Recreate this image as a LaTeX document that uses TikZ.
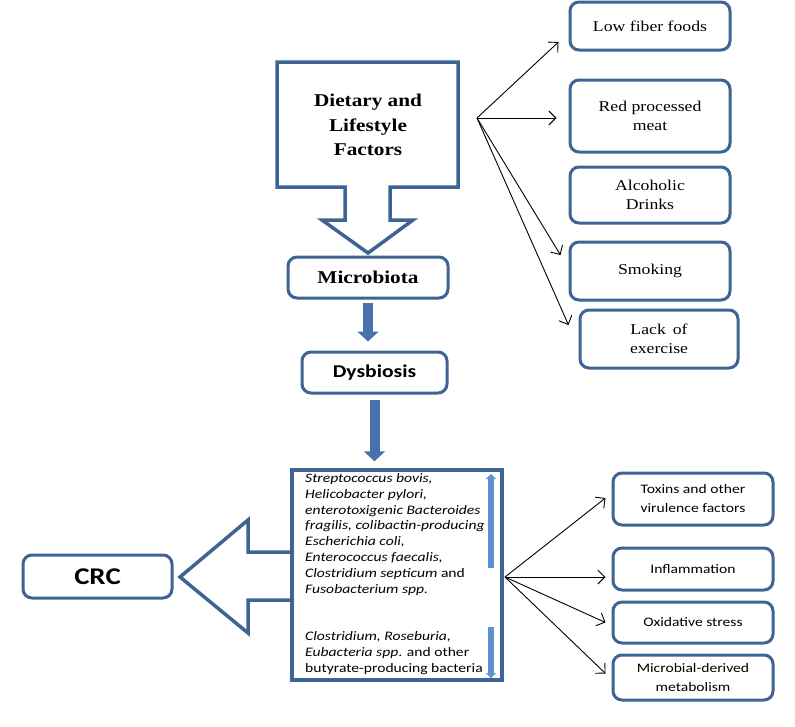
\documentclass[tikz,border=0pt]{standalone}
\usepackage{fontspec}
\setmainfont{Liberation Serif}
\newfontfamily\serifw[FakeStretch=1.18]{Liberation Serif}
\newfontfamily\sansw[FakeStretch=1.2]{Carlito}
\usetikzlibrary{arrows.meta}
\definecolor{bord}{HTML}{3E6494}
\definecolor{fatarrow}{HTML}{4772AC}
\definecolor{lightbar}{HTML}{5E92CF}
\begin{document}
\begin{tikzpicture}[x=1pt,y=-1pt,
 rbox/.style={draw=bord, line width=3pt, rounded corners=9pt, fill=white, inner sep=0pt, align=center},
 topbox/.style={rbox, minimum width=160pt, font=\serifw\fontsize{15}{19}\selectfont},
 botbox/.style={rbox, minimum width=160pt, font=\sansw\fontsize{13}{19}\selectfont},
 thinarrow/.style={draw=black, line width=0.9pt, -{Straight Barb[length=7pt,width=14pt]}},
 fatarr/.style={draw=fatarrow, line width=10pt, -{Triangle[length=10pt,width=21pt]}},
 lbar/.style={draw=lightbar, line width=6pt},
 blockarrow/.style={draw=bord, line width=3.5pt, fill=white, line join=miter},
 spectext/.style={anchor=north west, align=left, inner sep=0pt, font=\sansw\fontsize{13}{15.9}\selectfont},
]
\useasboundingbox[fill=white] (0,0) rectangle (795,726);

% Dietary block arrow
\draw[blockarrow] (277,62) -- (458,62) -- (458,187) -- (390,187) -- (390,220) -- (413,220)
  -- (368,253) -- (322,220) -- (345,220) -- (345,187) -- (277,187) -- cycle;
\node[align=center, font=\serifw\bfseries\fontsize{18}{24.5}\selectfont] (diet) at (368,125)
  {Dietary and\\Lifestyle\\Factors};

% Right top boxes
\node[topbox, minimum height=48pt] (low) at (650,26) {Low fiber foods};
\node[topbox, minimum height=72pt] (red) at (650,116) {Red processed\\meat};
\node[topbox, minimum height=56pt] (alc) at (650,195) {Alcoholic\\Drinks};
\node[topbox, minimum height=58pt] (smoke) at (650,271) {Smoking};
\node[topbox, minimum width=158pt, minimum height=58pt] (lack) at (659,339) {Lack\, of\\exercise};

\coordinate (fan1) at (477,118);
\draw[thinarrow] (fan1) -- ([shift={(-10,16)}]low.west);
\draw[thinarrow] (fan1) -- ([shift={(-12,2)}]red.west);
\draw[thinarrow] (fan1) -- ([shift={(-8,-16)}]smoke.west);
\draw[thinarrow] (fan1) -- ([shift={(-10,-14)}]lack.west);

% Microbiota, Dysbiosis
\node[rbox, minimum width=160pt, minimum height=41pt, font=\serifw\bfseries\fontsize{18}{22}\selectfont] (micro) at (368,277.5) {Microbiota};
\node[rbox, minimum width=145pt, minimum height=41pt, font=\sansw\bfseries\fontsize{18}{22}\selectfont] (dys) at (374.5,372.5) {Dysbiosis};

% CRC block arrow
\draw[blockarrow] (292,552) -- (248,552) -- (248,520) -- (180,577) -- (248,633) -- (248,600) -- (292,600);

% Species box
\node[draw=bord, line width=3.5pt, fill=white, minimum width=210pt, minimum height=210pt, inner sep=0pt] (spec) at (397,575) {};
\node[spectext] (spectop) at (305,473)
 {\textit{Streptococcus bovis,}\\
  \textit{Helicobacter pylori,}\\
  \textit{enterotoxigenic Bacteroides}\\
  \textit{fragilis, colibactin-producing}\\
  \textit{Escherichia coli,}\\
  \textit{Enterococcus faecalis,}\\
  \textit{Clostridium septicum} and\\
  \textit{Fusobacterium spp.}};
\node[spectext] (specbot) at (305,631)
 {\textit{Clostridium, Roseburia,}\\
  \textit{Eubacteria spp}. and other\\
  butyrate-producing bacteria};
\coordinate (barA1) at (491,568);
\coordinate (barA2) at (491,474);
\coordinate (barB1) at (491,627);
\coordinate (barB2) at (491,678);
\draw[lbar, -{Triangle[length=5pt,width=10pt]}] (barA1) -- (barA2);
\draw[lbar, -{Triangle[length=5pt,width=10pt]}] (barB1) -- (barB2);

% Fat arrows
\draw[fatarr, shorten <=3pt, shorten >=9pt] (micro.south) -- (micro.south |- dys.north);
\draw[fatarr, shorten <=5pt, shorten >=7pt] (dys.south) -- (dys.south |- spec.north);

% CRC
\node[rbox, minimum width=149pt, minimum height=43pt, font=\sansw\bfseries\fontsize{24}{28}\selectfont] (crc) at (97.5,576.5) {CRC};

% Bottom right boxes
\node[botbox, minimum height=52pt] (tox) at (693,499) {Toxins and other\\virulence factors};
\node[botbox, minimum height=42pt] (infl) at (693,569) {Inflammation};
\node[botbox, minimum height=41pt] (oxi) at (693,622.5) {Oxidative stress};
\node[botbox, minimum height=45pt] (mic) at (693,677.5) {Microbial-derived\\metabolism};

\coordinate (fan2) at (505,577);
\draw[thinarrow] (fan2) -- ([shift={(-6,-1)}]tox.west);
\draw[thinarrow] (fan2) -- ([shift={(-6,8)}]infl.west);
\draw[thinarrow] (fan2) -- ([shift={(-6,0)}]oxi.west);
\draw[thinarrow] (fan2) -- ([shift={(-6,-4)}]mic.west);
\end{tikzpicture}
\end{document}
